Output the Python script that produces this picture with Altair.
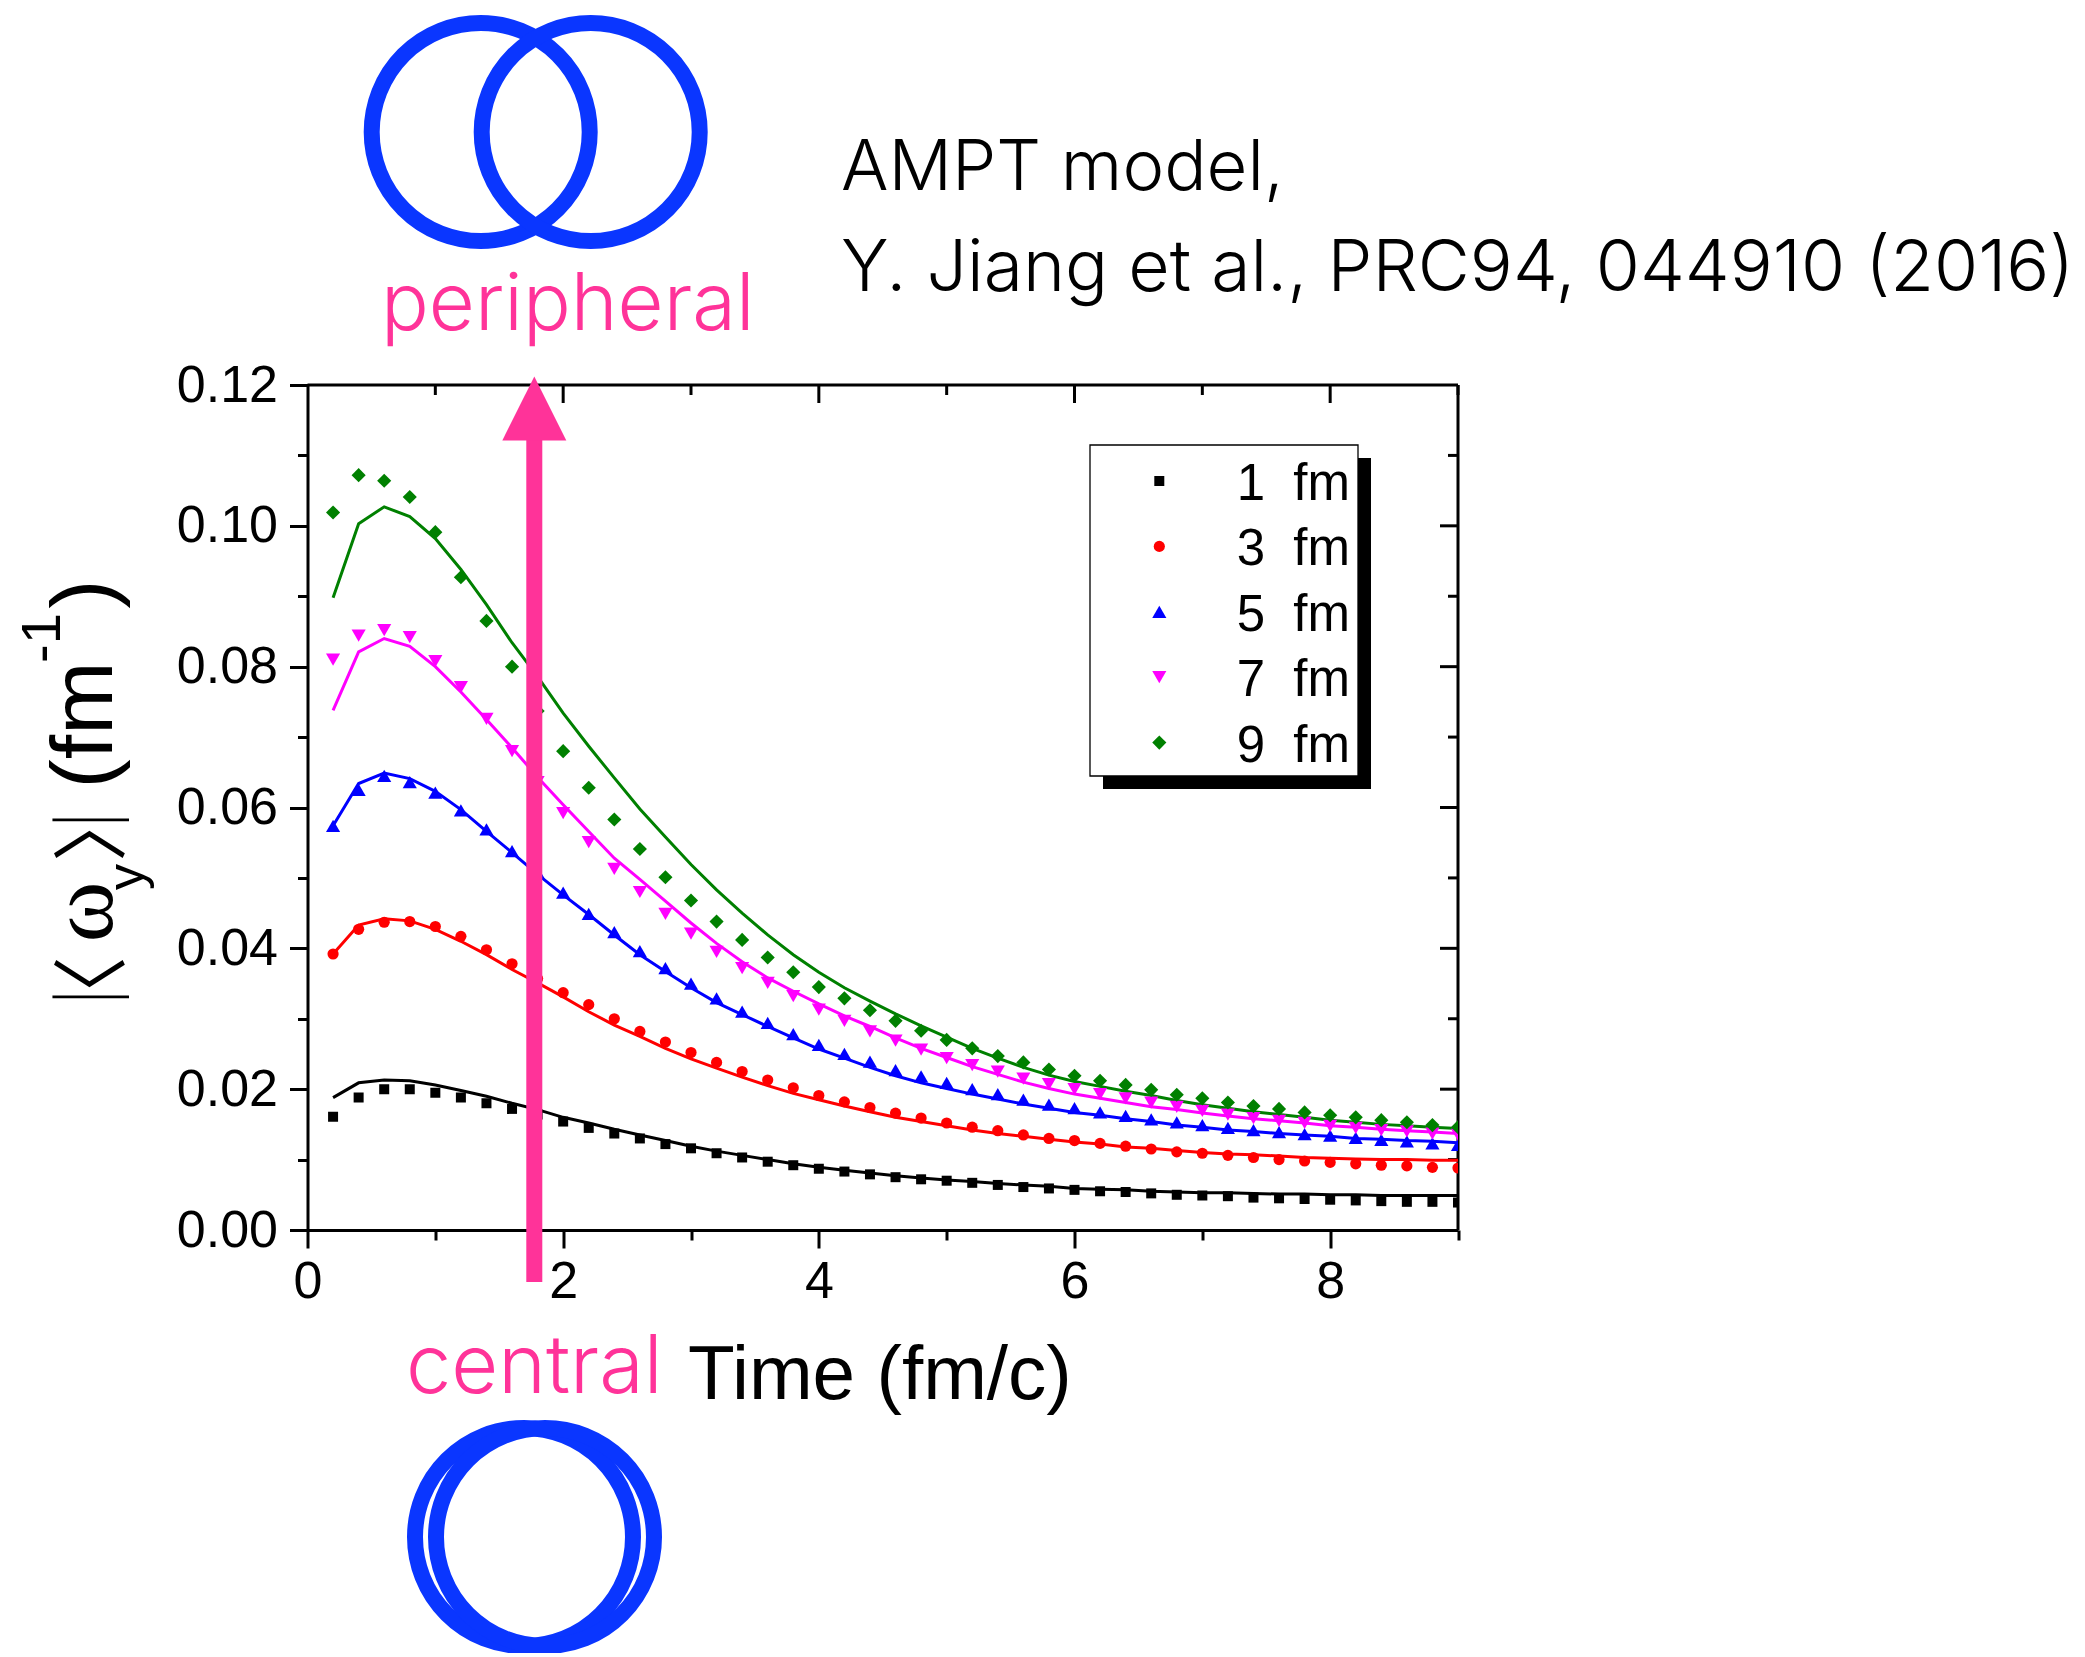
import altair as alt
import pandas as pd

times = [0.2,0.4,0.6,0.8,1.0,1.2,1.4,1.6,1.8,2.0,2.2,2.4,2.6,2.8,3.0,3.2,3.4,3.6,3.8,4.0,4.2,4.4,4.6,
         4.8,5.0,5.2,5.4,5.6,5.8,6.0,6.2,6.4,6.6,6.8,7.0,7.2,7.4,7.6,7.8,8.0,8.2,8.4,8.6,8.8,9.0]

pts_1 = [.0161,.0188,.0200,.0200,.0195,.0188,.0180,.0172,.0164,.0154,.0145,.0137,.0130,.0122,.0116,.0109,.0103,.0097,.0092,.0087,.0083,.0079,.0075,
         .0072,.0070,.0067,.0064,.0061,.0059,.0057,.0055,.0054,.0052,.0050,.0049,.0048,.0046,.0045,.0044,.0043,.0042,.0041,.0040,.0040,.0039]
line_1 = [.0188,.0209,.0213,.0212,.0206,.0198,.0190,.0180,.0171,.0160,.0152,.0143,.0135,.0127,.0119,.0112,.0106,.0100,.0094,.0089,.0085,.0081,.0077,
          .0074,.0071,.0069,.0066,.0064,.0062,.0059,.0058,.0057,.0055,.0054,.0053,.0053,.0052,.0051,.0051,.0050,.0050,.0049,.0049,.0049,.0049]
pts_3 = [.0392,.0427,.0437,.0438,.0431,.0417,.0398,.0378,.0357,.0337,.0320,.0300,.0282,.0267,.0252,.0238,.0225,.0213,.0202,.0191,.0182,.0174,.0166,
         .0159,.0152,.0146,.0141,.0135,.0130,.0127,.0123,.0119,.0115,.0111,.0109,.0106,.0103,.0100,.0098,.0096,.0094,.0092,.0091,.0089,.0088]
line_3 = [.0392,.0433,.0442,.0439,.0427,.0410,.0391,.0370,.0351,.0331,.0310,.0291,.0275,.0258,.0243,.0230,.0217,.0205,.0194,.0185,.0176,.0168,.0160,
          .0154,.0148,.0142,.0137,.0133,.0129,.0125,.0122,.0118,.0116,.0113,.0110,.0108,.0107,.0105,.0103,.0102,.0101,.0100,.0100,.0099,.0099]
pts_5 = [.0574,.0625,.0645,.0636,.0621,.0596,.0569,.0538,.0508,.0479,.0449,.0423,.0396,.0372,.0350,.0329,.0310,.0294,.0278,.0263,.0250,.0239,.0227,
         .0218,.0209,.0200,.0193,.0185,.0178,.0173,.0167,.0162,.0157,.0153,.0149,.0145,.0142,.0139,.0136,.0134,.0131,.0128,.0126,.0123,.0121]
line_5 = [.0574,.0634,.0649,.0641,.0623,.0597,.0566,.0536,.0505,.0476,.0448,.0419,.0391,.0367,.0344,.0323,.0306,.0289,.0273,.0257,.0244,.0231,.0219,
          .0209,.0201,.0193,.0186,.0179,.0173,.0167,.0163,.0158,.0154,.0149,.0146,.0142,.0140,.0137,.0135,.0133,.0130,.0129,.0127,.0126,.0124]
pts_7 = [.0810,.0844,.0852,.0842,.0808,.0771,.0726,.0680,.0636,.0592,.0551,.0513,.0480,.0449,.0421,.0395,.0372,.0351,.0332,.0313,.0297,.0282,.0269,
         .0256,.0244,.0234,.0225,.0215,.0207,.0200,.0193,.0187,.0181,.0175,.0169,.0164,.0159,.0155,.0152,.0148,.0145,.0142,.0140,.0137,.0135]
line_7 = [.0738,.0821,.0840,.0829,.0800,.0764,.0725,.0685,.0643,.0604,.0566,.0528,.0498,.0467,.0436,.0407,.0381,.0358,.0339,.0321,.0304,.0289,.0273,
          .0258,.0245,.0232,.0221,.0210,.0201,.0193,.0187,.0181,.0175,.0171,.0166,.0162,.0158,.0155,.0152,.0148,.0146,.0143,.0141,.0139,.0137]
pts_9 = [.1019,.1072,.1064,.1041,.0991,.0927,.0865,.0800,.0737,.0680,.0628,.0583,.0541,.0501,.0468,.0438,.0412,.0387,.0366,.0345,.0329,.0312,.0297,
         .0283,.0270,.0258,.0247,.0238,.0228,.0219,.0212,.0206,.0199,.0192,.0187,.0181,.0176,.0172,.0167,.0163,.0160,.0156,.0153,.0149,.0146]
line_9 = [.0898,.1003,.1027,.1013,.0982,.0938,.0888,.0834,.0786,.0734,.0687,.0642,.0598,.0558,.0519,.0483,.0450,.0419,.0391,.0366,.0344,.0325,.0307,
          .0290,.0274,.0258,.0244,.0231,.0220,.0211,.0204,.0197,.0191,.0184,.0178,.0173,.0168,.0164,.0160,.0156,.0153,.0150,.0148,.0146,.0144]

labels = ["1\u00a0\u00a0fm", "3\u00a0\u00a0fm", "5\u00a0\u00a0fm", "7\u00a0\u00a0fm", "9\u00a0\u00a0fm"]
colors = ["#000000", "#ff0000", "#0000ff", "#ff00ff", "#008000"]
shapes = ["square", "circle", "triangle-up", "triangle-down", "diamond"]
sizes = [100, 125, 200, 200, 200]
x_ticks = [0, 1, 2, 3, 4, 5, 6, 7, 8, 9]
y_ticks = [0, .01, .02, .03, .04, .05, .06, .07, .08, .09, .10, .11, .12]
BLUE = "#0a36ff"
PINK = "#ff3399"
SANS = "Liberation Sans"
JP = "Inter"
CJK = "Noto Sans CJK JP"

OX, OY = 307.5, 385.0
W, H = 1150.5, 845.0

rows_p, rows_l = [], []
for lab, p, l in zip(labels, [pts_1, pts_3, pts_5, pts_7, pts_9], [line_1, line_3, line_5, line_7, line_9]):
    for t, a, b in zip(times, p, l):
        rows_p.append({"t": t, "v": a, "r": lab})
        rows_l.append({"t": t, "v": b, "r": lab})
df_p, df_l = pd.DataFrame(rows_p), pd.DataFrame(rows_l)

xs = alt.Scale(domain=[0, 9], nice=False, zero=False)
ys = alt.Scale(domain=[0, 0.12], nice=False, zero=False)
cs = alt.Scale(domain=labels, range=colors)
ss = alt.Scale(domain=labels, range=shapes)
zs = alt.Scale(type="ordinal", domain=labels, range=sizes)

x_axis = alt.Axis(
    values=x_ticks, title=None, grid=False, labelFont=SANS, labelFontSize=52, labelColor="#000",
    labelExpr="datum.value % 2 == 0 ? format(datum.value, 'd') : ''", labelPadding=8, labelOverlap=False, labelFlush=False,
    domainColor="#000", domainWidth=3, tickColor="#000", tickWidth=3,
    tickSize={"condition": {"test": "datum.value % 2 == 0", "value": 18}, "value": 10},
)
y_axis = alt.Axis(
    values=y_ticks, title=None, grid=False, labelFont=SANS, labelFontSize=52, labelColor="#000",
    labelExpr="round(datum.value * 100) % 2 == 0 ? format(datum.value, '.2f') : ''", labelPadding=12, labelOverlap=False, labelFlush=False,
    domainColor="#000", domainWidth=3, tickColor="#000", tickWidth=3,
    tickSize={"condition": {"test": "round(datum.value * 100) % 2 == 0", "value": 18}, "value": 10},
)

lines = alt.Chart(df_l).mark_line(strokeWidth=3, clip=True).encode(
    x=alt.X("t:Q", scale=xs, axis=x_axis),
    y=alt.Y("v:Q", scale=ys, axis=y_axis),
    color=alt.Color("r:N", scale=cs, legend=None),
    detail="r:N",
)
points = alt.Chart(df_p).mark_point(filled=True, opacity=1, clip=True).encode(
    x=alt.X("t:Q", scale=xs),
    y=alt.Y("v:Q", scale=ys),
    color=alt.Color("r:N", scale=cs, legend=None),
    shape=alt.Shape("r:N", scale=ss, legend=None),
    size=alt.Size("r:N", scale=zs, legend=None),
)

one = pd.DataFrame({"a": [1]})


def text(s, x, y, size, color="#000", font=SANS, angle=0, align="left", weight=None):
    kw = {"fontWeight": weight} if weight else {}
    return alt.Chart(pd.DataFrame({"s": [s]})).mark_text(
        font=font, fontSize=size, color=color, angle=angle, align=align, baseline="alphabetic", **kw
    ).encode(text="s:N", x=alt.value(x - OX), y=alt.value(y - OY))


def ring(x, y):
    return alt.Chart(one).mark_point(filled=False, stroke=BLUE, strokeWidth=16, size=47524, opacity=1).encode(
        x=alt.value(x - OX), y=alt.value(y - OY))


def box(x0, x1, y0, y1, **kw):
    return alt.Chart(one).mark_rect(**kw).encode(
        x=alt.value(x0 - OX), x2=alt.value(x1 - OX), y=alt.value(y0 - OY), y2=alt.value(y1 - OY))


frame = [
    alt.Chart(one).mark_rule(color="#000", strokeWidth=3).encode(x=alt.value(0), x2=alt.value(W), y=alt.value(0)),
    alt.Chart(one).mark_rule(color="#000", strokeWidth=3).encode(x=alt.value(W), y=alt.value(0), y2=alt.value(H)),
]
for vals, length in [([2, 4, 6, 8], 18), ([1, 3, 5, 7, 9], 10)]:
    frame.append(alt.Chart(pd.DataFrame({"x": vals})).mark_rule(color="#000", strokeWidth=3).encode(
        x=alt.X("x:Q", scale=xs), y=alt.value(0), y2=alt.value(length)))
for vals, length in [([.02, .04, .06, .08, .10], 18), ([.01, .03, .05, .07, .09, .11], 10)]:
    frame.append(alt.Chart(pd.DataFrame({"y": vals})).mark_rule(color="#000", strokeWidth=3).encode(
        y=alt.Y("y:Q", scale=ys), x=alt.value(W - length), x2=alt.value(W)))

arrow = [
    alt.Chart(one).mark_rule(color=PINK, strokeWidth=16).encode(
        x=alt.value(534.3 - OX), y=alt.value(440 - OY), y2=alt.value(1282 - OY)),
    alt.Chart(one).mark_point(filled=True, color=PINK, opacity=1, shape="M0,-1L1,1L-1,1Z", size=4096).encode(
        x=alt.value(534.3 - OX), y=alt.value(408.5 - OY)),
]

legend_parts = [
    box(1103, 1371, 458, 789, color="#000"),
    box(1090, 1358, 445, 776, fill="#fff", stroke="#000", strokeWidth=1.3),
]
for i, (lab, col, shp, sz) in enumerate(zip(labels, colors, shapes, sizes)):
    yc = 481 + 65.4 * i
    legend_parts.append(alt.Chart(one).mark_point(filled=True, opacity=1, color=col, shape=shp, size=sz).encode(
        x=alt.value(1159.3 - OX), y=alt.value(yc - OY)))
    legend_parts.append(text(lab, 1350, 500 + 65.4 * i, 51, align="right"))

notes = [
    ring(480.7, 132), ring(590.7, 132), ring(524, 1537), ring(545, 1537),
    text("peripheral", 381, 330, 79.5, PINK, JP, weight=300),
    text("central", 406, 1393, 81, PINK, JP, weight=300),
    text("AMPT model,", 841, 190, 70.5, "#000", JP, weight=300),
    text("Y. Jiang et al., PRC94, 044910 (2016)", 841, 291, 71.5, "#000", JP, weight=300),
    text("Time (fm/c)", 688, 1399, 76.5),
    text("|", 114, 997, 64, font=JP, angle=270, align="center", weight=200),
    text("\u3008", 118, 994, 76, font=CJK, angle=270, align="center"),
    text("\u03c9", 112, 912, 92, font="Liberation Serif", angle=270, align="center"),
    text("y", 143, 877, 52, angle=270, align="center"),
    text("\u3009", 118, 824, 76, font=CJK, angle=270, align="center"),
    text("|", 114, 820, 64, font=JP, angle=270, align="center", weight=200),
    text("(fm", 112, 725, 88, angle=270, align="center"),
    text("-1", 60, 638, 56, angle=270, align="center"),
    text(")", 112, 594, 88, angle=270, align="center"),
]

chart = alt.layer(*frame, *legend_parts, lines, points, *arrow, *notes).properties(
    width=W, height=H,
    autosize=alt.AutoSizeParams(type="none"),
    padding={"left": OX - 8, "top": OY - 8, "right": 619, "bottom": 1653 - OY - H},
    background="#ffffff",
).configure_view(stroke=None)

chart.save("out.html", embed_options={"renderer": "svg", "actions": False})
